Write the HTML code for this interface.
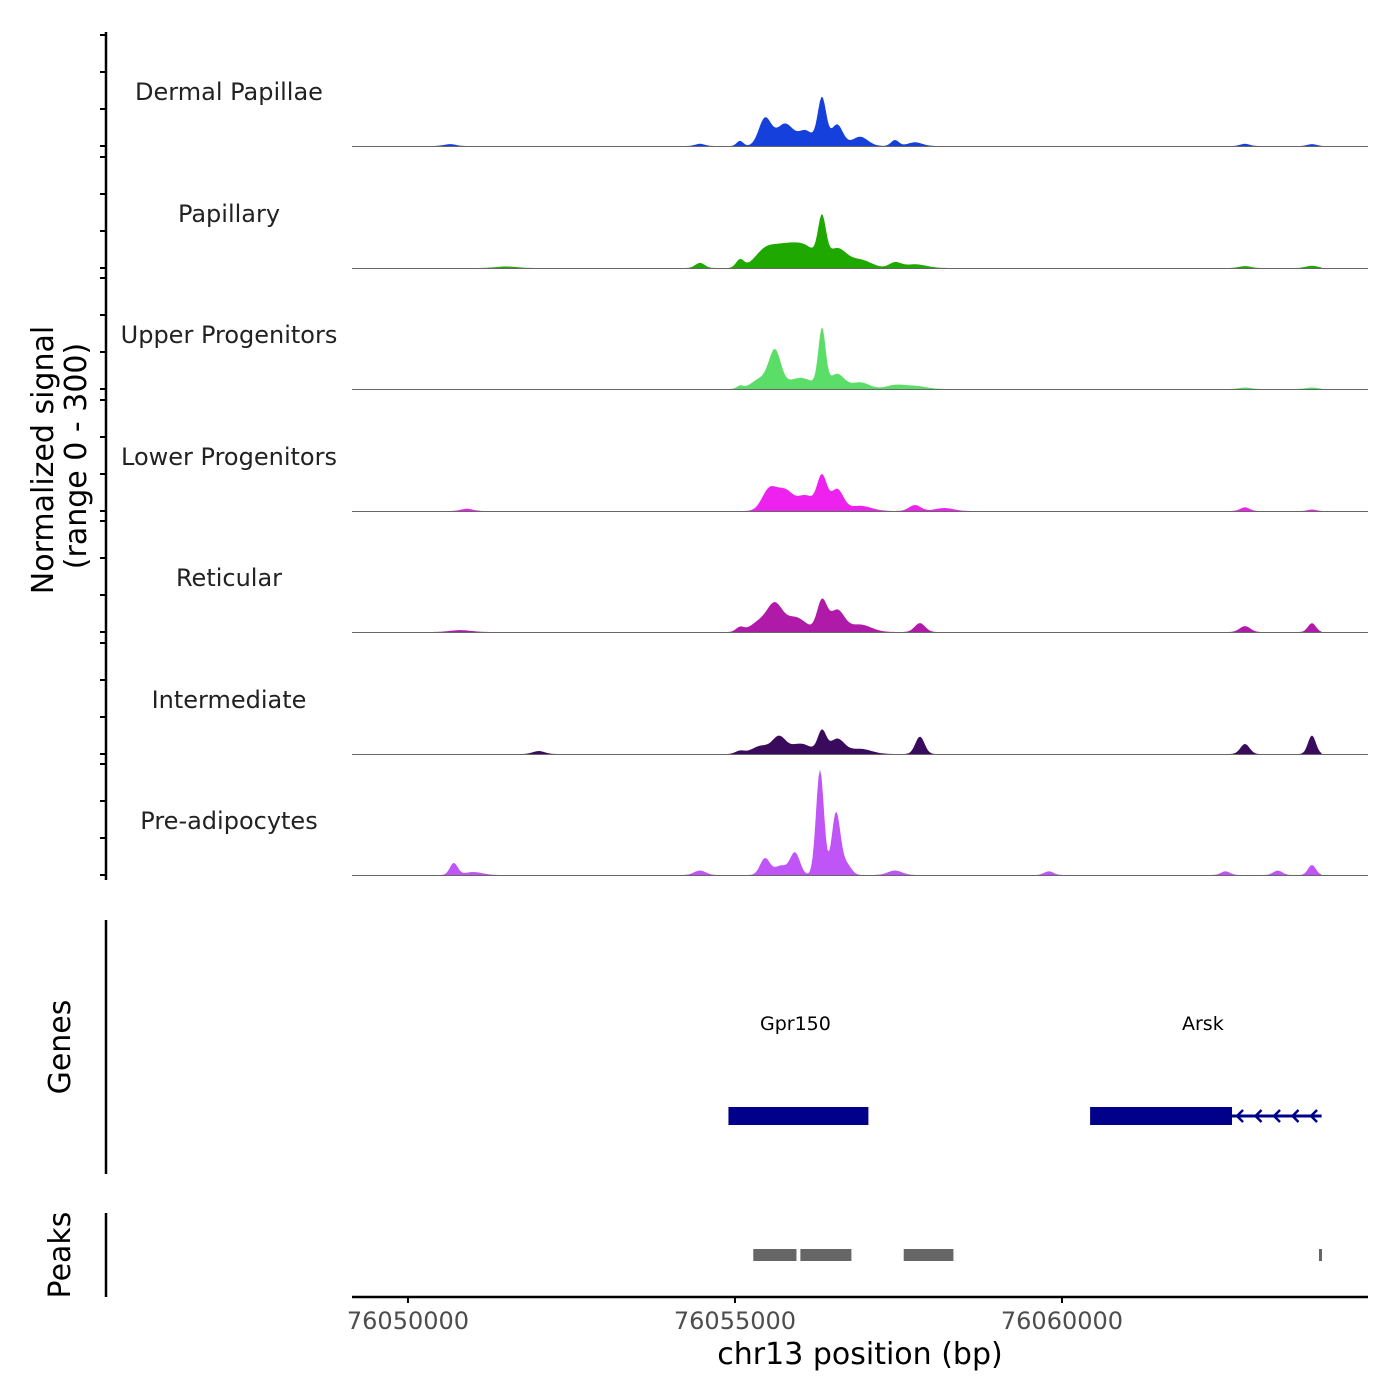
<!DOCTYPE html>
<html><head><meta charset="utf-8">
<style>
body{margin:0;background:#fff;}
svg{display:block;font-family:"DejaVu Sans","Liberation Sans",sans-serif;}
</style></head>
<body>
<svg id="chart" width="1400" height="1400" viewBox="0 0 1400 1400" xmlns="http://www.w3.org/2000/svg">
<g id="tracks"></g>
<g id="axes"></g>
<g id="genes"></g>
<g id="peaks"></g>
</svg>
<script>
// ---- data ----
const trackNames = ["Dermal Papillae","Papillary","Upper Progenitors","Lower Progenitors","Reticular","Intermediate","Pre-adipocytes"];
const trackColors = ["#1540dc","#1ea800","#5ade68","#ee22ee","#b01aa8","#3a0a5c","#c055f7"];
// peaks per track: centre (bp), height (0-300 signal), width sd (bp)
const peakPos = [
 [76055459,76055765,76056086,76056330,76056560,76056911,76057446,76057752,76055076,76054465,76050642,76062798,76063822],
 [76055459,76055765,76056086,76056330,76056560,76056911,76057446,76057752,76055076,76054465,76051500,76062798,76063822],
 [76055612,76055400,76056000,76056330,76056560,76056911,76057446,76057752,76055076,76062798,76063822],
 [76055520,76055765,76056086,76056330,76056560,76056911,76057752,76058200,76050900,76062798,76063822],
 [76055612,76055400,76055918,76056330,76056560,76056911,76057828,76055076,76050800,76062798,76063822],
 [76055673,76055400,76056000,76056330,76056560,76056911,76057828,76055076,76052000,76062798,76063822],
 [76056300,76056545,76055459,76055918,76055700,76056700,76050700,76051000,76054465,76057446,76059800,76062500,76063300,76063822]
];
const peakVal = [
 [74,60,40,128,58,25,16,10,14,6,5,6,5],
 [45,50,52,112,50,22,14,10,22,14,4,5,6],
 [95,28,30,155,40,18,10,8,8,4,4],
 [55,55,40,92,58,14,16,8,6,10,4],
 [62,30,40,82,58,20,24,12,5,16,24],
 [42,22,28,58,40,14,47,8,8,27,50],
 [285,168,45,60,25,30,32,8,12,12,10,10,12,27]
];
const peakWid = [
 [95,130,110,65,90,120,60,110,50,70,90,70,70],
 [160,180,180,60,140,170,90,170,60,70,160,90,90],
 [90,140,200,55,110,140,140,170,50,90,90],
 [110,130,120,75,95,170,90,140,90,70,60],
 [110,150,170,75,110,170,80,60,160,80,60],
 [100,140,170,65,110,170,70,70,90,70,60],
 [60,65,75,75,95,75,60,140,90,110,70,70,70,60]
];
const xTicks = [76050000,76055000,76060000];
const genes = [{name:"Gpr150",start:76054900,end:76057040,strand:"+",arrowEnd:null},
               {name:"Arsk",start:76060430,end:76062600,strand:"-",arrowEnd:76063970}];
const peakStarts = [76055280,76056000,76057580,76063930];
const peakEnds   = [76055940,76056780,76058340,76063970];

// ---- scales ----
const X0=352,X1=1368, BP0=76049144, BPPX=0.0654;
const xs = bp => X0 + (bp-BP0)*BPPX;
const baselines=[146,268,389,511,632,754,875];
const ys = v => v*111/300;
const NS="http://www.w3.org/2000/svg";
function mk(tag,attrs,parent){const e=document.createElementNS(NS,tag);for(const k in attrs)e.setAttribute(k,attrs[k]);parent.appendChild(e);return e;}

const tracks=document.getElementById('tracks');
trackNames.forEach((nm,i)=>{
  const b=baselines[i];
  let d=`M${X0+48},${b}`;
  for(let x=X0+48;x<=1322;x+=1.5){
    const bp=BP0+(x-X0)/BPPX;
    let v=0;
    for(let k=0;k<peakPos[i].length;k++){const z=(bp-peakPos[i][k])/peakWid[i][k];v+=peakVal[i][k]*Math.exp(-0.5*z*z);}
    d+=`L${x.toFixed(1)},${(b-ys(v)).toFixed(2)}`;
  }
  d+=`L1322,${b}Z`;
  const p=mk('path',{d:d,fill:trackColors[i]},tracks);
  
  
  const l=mk('line',{x1:X0,x2:X1,y1:b+0.5,y2:b+0.5,stroke:'#666','stroke-width':1},tracks);
  
  
  const t=mk('text',{x:229,y:b-46,'text-anchor':'middle','font-size':24,fill:'#222'},tracks);
  t.textContent=nm;
  
  
});

const axes=document.getElementById('axes');
let la=mk('line',{x1:106,x2:106,y1:32,y2:880,stroke:'#000','stroke-width':2.5},axes);


baselines.forEach((b,i)=>{
  for(let k=0;k<4;k++){
    const tk=mk('line',{x1:100,x2:106,y1:b-k*37,y2:b-k*37,stroke:'#000','stroke-width':2},axes);
    
    
  }
});
let yt=mk('text',{transform:'translate(53,460) rotate(-90)','text-anchor':'middle','font-size':30,fill:'#000'},axes);
yt.textContent='Normalized signal';


let yt2=mk('text',{transform:'translate(86,456) rotate(-90)','text-anchor':'middle','font-size':30,fill:'#000'},axes);
yt2.textContent='(range 0 - 300)';


let ga=mk('line',{x1:106,x2:106,y1:920,y2:1174,stroke:'#000','stroke-width':2.5},axes);


let gt=mk('text',{transform:'translate(70,1047) rotate(-90)','text-anchor':'middle','font-size':30,fill:'#000'},axes);
gt.textContent='Genes';


let pa=mk('line',{x1:106,x2:106,y1:1213,y2:1297,stroke:'#000','stroke-width':2.5},axes);


let pt=mk('text',{transform:'translate(70,1255) rotate(-90)','text-anchor':'middle','font-size':30,fill:'#000'},axes);
pt.textContent='Peaks';


let xa=mk('line',{x1:X0,x2:X1,y1:1297,y2:1297,stroke:'#000','stroke-width':2.5},axes);


xTicks.forEach(t=>{
  const tk=mk('line',{x1:xs(t),x2:xs(t),y1:1297,y2:1303,stroke:'#000','stroke-width':2},axes);
  
  
  const tl=mk('text',{x:xs(t),y:1329,'text-anchor':'middle','font-size':24,fill:'#4d4d4d'},axes);
  tl.textContent=t;
  
  
});
let xt=mk('text',{x:860,y:1364,'text-anchor':'middle','font-size':30,fill:'#000'},axes);
xt.textContent='chr13 position (bp)';



const gG=document.getElementById('genes');
genes.forEach(g=>{
  const r=mk('rect',{x:xs(g.start),y:1107,width:xs(g.end)-xs(g.start),height:18,fill:'#00008b'},gG);
  
  
  const endX=g.arrowEnd?xs(g.arrowEnd):xs(g.end);
  const t=mk('text',{x:(xs(g.start)+endX)/2-3,y:1030,'text-anchor':'middle','font-size':19,fill:'#000'},gG);
  t.textContent=g.name;
  
  
  if(g.arrowEnd){
    const ln=mk('line',{x1:xs(g.end),x2:xs(g.arrowEnd),y1:1116,y2:1116,stroke:'#00008b','stroke-width':3},gG);
    
    
    for(let k=0;k<5;k++){
      const ax=xs(g.end)+5+k*18.5;
      const ar=mk('path',{d:`M${ax+6},${1110}L${ax},${1116}L${ax+6},${1122}`,fill:'none',stroke:'#00008b','stroke-width':2.5},gG);
      
      
    }
  }
});

const pG=document.getElementById('peaks');
peakStarts.forEach((s,i)=>{
  const w=Math.max(3,xs(peakEnds[i])-xs(s));
  const r=mk('rect',{x:xs(s),y:1249,width:w,height:12,fill:'#666'},pG);
  
  
});
</script>
</body></html>
